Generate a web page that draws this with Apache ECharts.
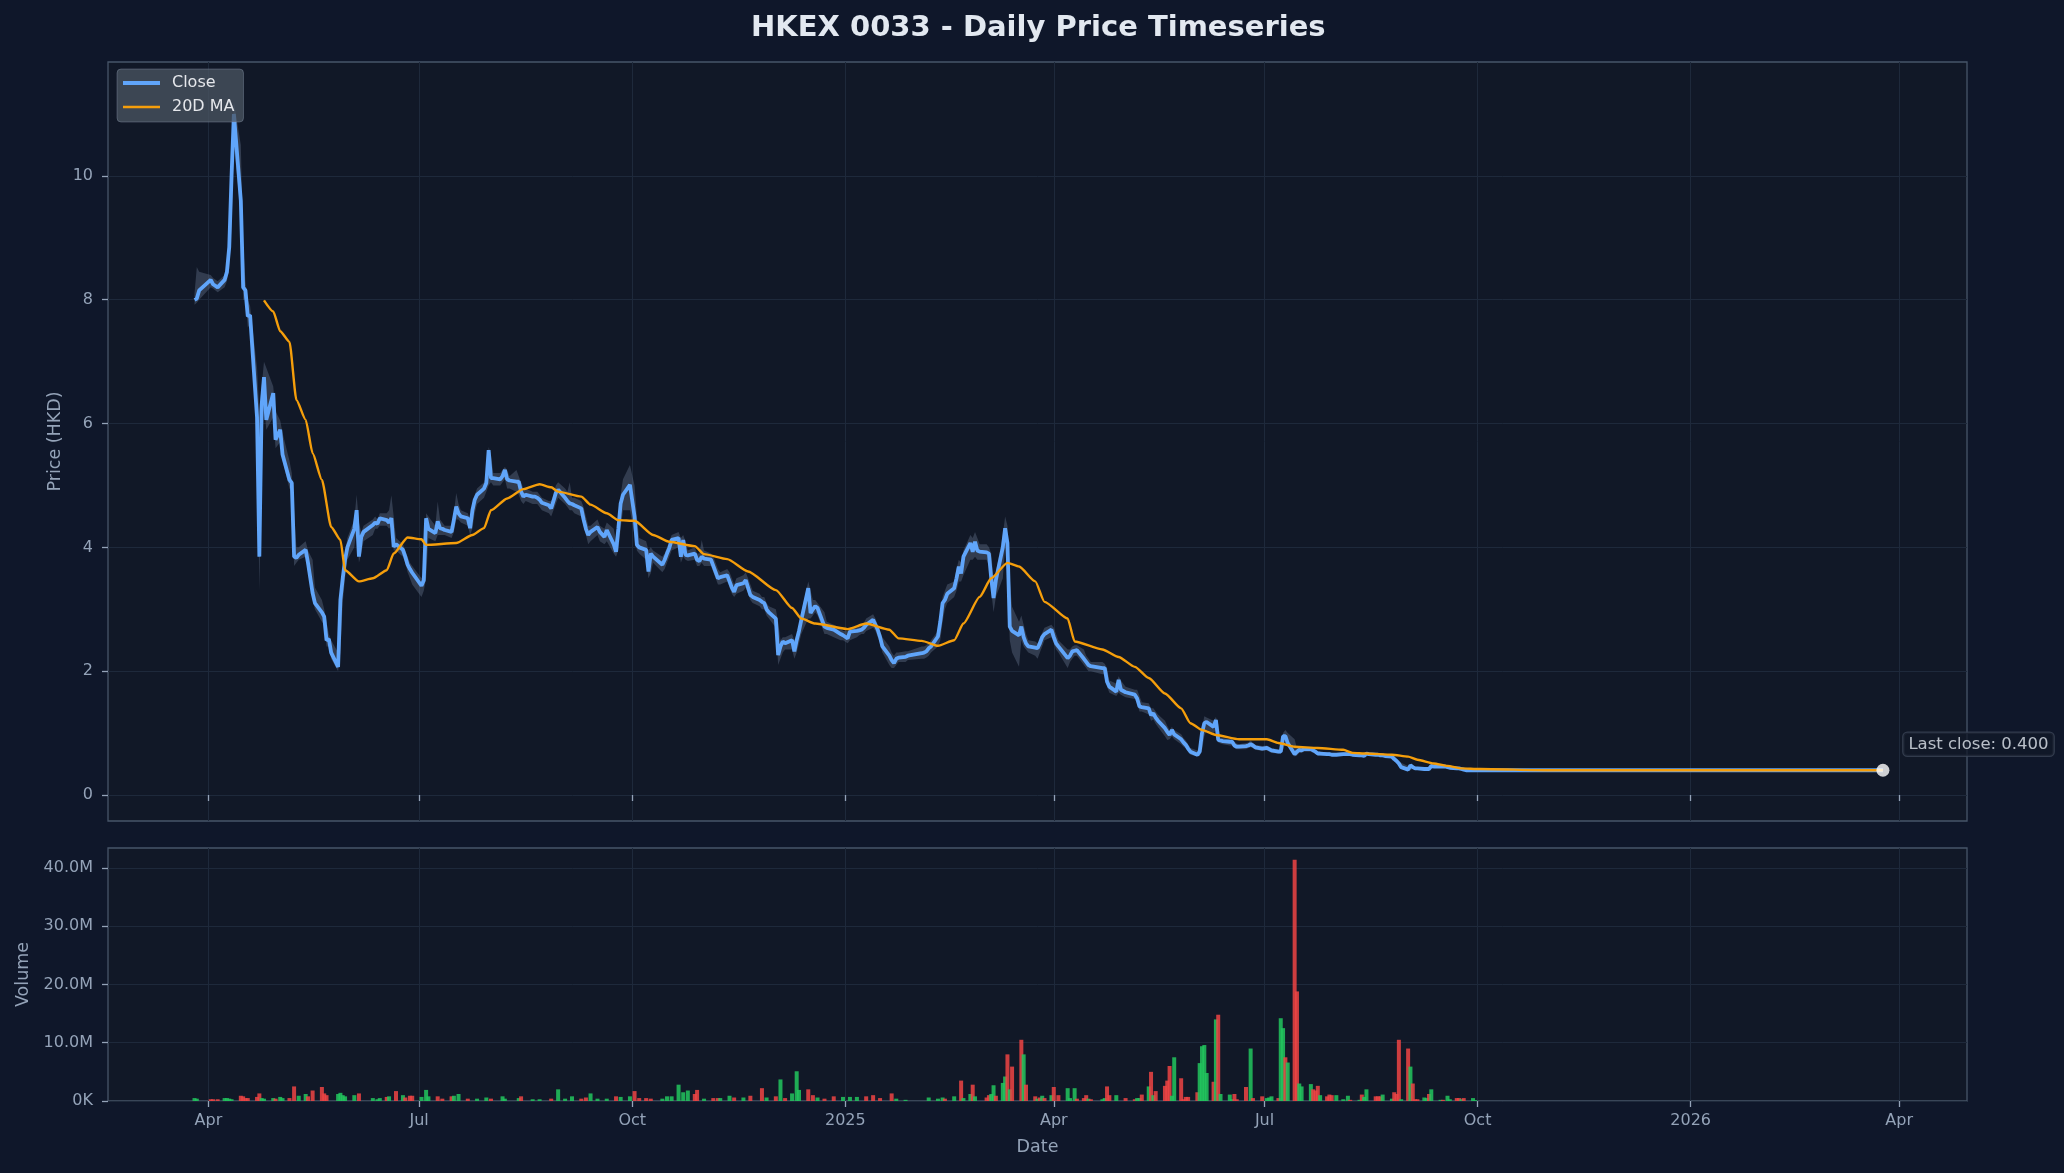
<!DOCTYPE html>
<html>
<head>
<meta charset="utf-8">
<script src="https://cdn.jsdelivr.net/npm/echarts@6/dist/echarts.min.js"></script>
<style>
html,body{margin:0;padding:0;background:#0f172a;}
#chart{width:2064px;height:1173px;}
</style>
</head>
<body>
<div id="chart"></div>
<script>
// ---------------- DATA ----------------
const chartTitle = 'HKEX 0033 - Daily Price Timeseries';

const closeDates = [
 '2024-03-26','2024-03-27','2024-03-28','2024-04-02','2024-04-03','2024-04-05','2024-04-08','2024-04-09','2024-04-10','2024-04-11','2024-04-12','2024-04-15','2024-04-16','2024-04-17','2024-04-18','2024-04-19','2024-04-22','2024-04-23','2024-04-24','2024-04-25','2024-04-26','2024-04-29','2024-04-30',
 '2024-05-02','2024-05-03','2024-05-06','2024-05-07','2024-05-08','2024-05-09','2024-05-10','2024-05-13','2024-05-14','2024-05-16','2024-05-17','2024-05-20','2024-05-21','2024-05-22','2024-05-23','2024-05-24','2024-05-27','2024-05-28','2024-05-29','2024-05-30','2024-05-31',
 '2024-06-03','2024-06-04','2024-06-05','2024-06-06','2024-06-07','2024-06-11','2024-06-12','2024-06-13','2024-06-14','2024-06-17','2024-06-18','2024-06-19','2024-06-20','2024-06-21','2024-06-24','2024-06-25','2024-06-26','2024-06-27','2024-06-28',
 '2024-07-02','2024-07-03','2024-07-04','2024-07-05','2024-07-08','2024-07-09','2024-07-10','2024-07-11','2024-07-12','2024-07-15','2024-07-16','2024-07-17','2024-07-18','2024-07-19','2024-07-22','2024-07-23','2024-07-24','2024-07-25','2024-07-26','2024-07-29','2024-07-30','2024-07-31',
 '2024-08-01','2024-08-02','2024-08-05','2024-08-06','2024-08-07','2024-08-08','2024-08-09','2024-08-12','2024-08-13','2024-08-14','2024-08-15','2024-08-16','2024-08-19','2024-08-20','2024-08-21','2024-08-22','2024-08-23','2024-08-26','2024-08-27','2024-08-28','2024-08-29','2024-08-30',
 '2024-09-02','2024-09-03','2024-09-04','2024-09-05','2024-09-06','2024-09-09','2024-09-10','2024-09-11','2024-09-12','2024-09-13','2024-09-16','2024-09-17','2024-09-19','2024-09-20','2024-09-23','2024-09-24','2024-09-25','2024-09-26','2024-09-27','2024-09-30',
 '2024-10-02','2024-10-03','2024-10-04','2024-10-07','2024-10-08','2024-10-09','2024-10-10','2024-10-14','2024-10-15','2024-10-16','2024-10-17','2024-10-18','2024-10-21','2024-10-22','2024-10-23','2024-10-24','2024-10-25','2024-10-28','2024-10-29','2024-10-30','2024-10-31',
 '2024-11-01','2024-11-04','2024-11-05','2024-11-06','2024-11-07','2024-11-08','2024-11-11','2024-11-12','2024-11-13','2024-11-14','2024-11-15','2024-11-18','2024-11-19','2024-11-20','2024-11-21','2024-11-22','2024-11-25','2024-11-26','2024-11-27','2024-11-28','2024-11-29',
 '2024-12-02','2024-12-03','2024-12-04','2024-12-05','2024-12-06','2024-12-09','2024-12-10','2024-12-11','2024-12-12','2024-12-13','2024-12-16','2024-12-17','2024-12-18','2024-12-19','2024-12-20','2024-12-23','2024-12-24','2024-12-27','2024-12-30','2024-12-31',
 '2025-01-02','2025-01-03','2025-01-06','2025-01-07','2025-01-08','2025-01-09','2025-01-10','2025-01-13','2025-01-14','2025-01-15','2025-01-16','2025-01-17','2025-01-20','2025-01-21','2025-01-22','2025-01-23','2025-01-24','2025-01-27','2025-01-28',
 '2025-02-03','2025-02-04','2025-02-05','2025-02-06','2025-02-07','2025-02-10','2025-02-11','2025-02-12','2025-02-13','2025-02-14','2025-02-17','2025-02-18','2025-02-19','2025-02-20','2025-02-21','2025-02-24','2025-02-25','2025-02-26','2025-02-27','2025-02-28',
 '2025-03-03','2025-03-04','2025-03-05','2025-03-06','2025-03-07','2025-03-10','2025-03-11','2025-03-12','2025-03-13','2025-03-14','2025-03-17','2025-03-18','2025-03-19','2025-03-20','2025-03-21','2025-03-24','2025-03-25','2025-03-26','2025-03-27','2025-03-28','2025-03-31',
 '2025-04-01','2025-04-02','2025-04-03','2025-04-07','2025-04-08','2025-04-09','2025-04-10','2025-04-11','2025-04-14','2025-04-15','2025-04-16','2025-04-17','2025-04-22','2025-04-23','2025-04-24','2025-04-25','2025-04-28','2025-04-29','2025-04-30',
 '2025-05-02','2025-05-06','2025-05-07','2025-05-08','2025-05-09','2025-05-12','2025-05-13','2025-05-14','2025-05-15','2025-05-16','2025-05-19','2025-05-20','2025-05-21','2025-05-22','2025-05-23','2025-05-26','2025-05-27','2025-05-28','2025-05-29','2025-05-30',
 '2025-06-02','2025-06-03','2025-06-04','2025-06-05','2025-06-06','2025-06-09','2025-06-10','2025-06-11','2025-06-12','2025-06-13','2025-06-16','2025-06-17','2025-06-18','2025-06-19','2025-06-20','2025-06-23','2025-06-24','2025-06-25','2025-06-26','2025-06-27','2025-06-30',
 '2025-07-02','2025-07-03','2025-07-04','2025-07-07','2025-07-08','2025-07-09','2025-07-10','2025-07-11','2025-07-14','2025-07-15','2025-07-16','2025-07-17','2025-07-18','2025-07-21','2025-07-22','2025-07-23','2025-07-24','2025-07-25','2025-07-28','2025-07-29','2025-07-30','2025-07-31',
 '2025-08-01','2025-08-04','2025-08-05','2025-08-06','2025-08-07','2025-08-08','2025-08-11','2025-08-12','2025-08-13','2025-08-14','2025-08-15','2025-08-18','2025-08-19','2025-08-20','2025-08-21','2025-08-22','2025-08-25','2025-08-26','2025-08-27','2025-08-28','2025-08-29',
 '2025-09-01','2025-09-02','2025-09-03','2025-09-04','2025-09-05','2025-09-08','2025-09-09','2025-09-10','2025-09-11','2025-09-12','2025-09-15','2025-09-16','2025-09-17','2025-09-18','2025-09-19','2025-09-22','2025-09-23','2025-09-24','2025-09-25','2025-09-26','2025-09-29','2025-09-30',
 '2025-10-31','2025-11-28','2025-12-31','2026-01-30','2026-02-27','2026-03-25'
];

const closeVals = [
 8.00,8.02,8.15,8.32,8.25,8.20,8.32,8.45,8.85,10.0,11.0,9.60,8.20,8.15,7.73,7.75,6.10,3.85,6.30,6.75,6.06,6.49,5.74,
 5.90,5.50,5.09,5.04,3.85,3.83,3.88,3.96,3.75,3.26,3.10,2.95,2.88,2.50,2.52,2.30,2.07,3.15,3.50,3.80,4.00,
 4.30,4.60,3.85,4.17,4.25,4.36,4.40,4.38,4.47,4.44,4.40,4.47,4.01,4.05,3.96,3.85,3.72,3.65,3.59,
 3.38,3.47,4.47,4.30,4.23,4.42,4.31,4.30,4.28,4.25,4.45,4.66,4.55,4.50,4.47,4.31,4.60,4.77,4.85,4.95,5.04,5.57,
 5.12,5.12,5.10,5.15,5.25,5.10,5.08,5.06,5.06,4.90,4.82,4.85,4.82,4.82,4.80,4.77,4.72,4.68,4.63,4.75,4.88,4.93,
 4.80,4.75,4.71,4.70,4.68,4.63,4.45,4.30,4.20,4.25,4.33,4.25,4.17,4.28,4.05,3.93,4.30,4.71,4.85,5.01,
 4.50,4.04,4.00,3.96,3.61,3.90,3.85,3.72,3.80,3.90,3.99,4.12,4.15,3.85,4.12,3.88,3.87,3.90,3.80,3.78,3.85,
 3.82,3.80,3.70,3.60,3.50,3.52,3.55,3.45,3.35,3.28,3.39,3.42,3.47,3.35,3.23,3.20,3.15,3.12,3.10,3.00,2.95,
 2.85,2.26,2.40,2.48,2.45,2.50,2.32,2.50,2.65,2.83,3.34,2.94,3.00,3.05,3.02,2.72,2.70,2.67,2.60,2.58,
 2.53,2.64,2.65,2.66,2.67,2.70,2.75,2.83,2.75,2.67,2.55,2.40,2.25,2.18,2.13,2.20,2.22,2.23,2.25,
 2.29,2.30,2.32,2.37,2.40,2.56,2.80,3.10,3.15,3.25,3.34,3.50,3.69,3.58,3.85,4.07,3.93,4.09,3.95,3.93,
 3.92,3.90,3.50,3.18,3.47,4.00,4.31,4.07,2.72,2.65,2.58,2.72,2.55,2.45,2.40,2.38,2.37,2.45,2.55,2.60,2.67,
 2.55,2.45,2.40,2.21,2.25,2.32,2.33,2.34,2.20,2.15,2.10,2.08,2.05,2.05,1.83,1.75,1.67,1.86,1.70,
 1.66,1.62,1.56,1.43,1.42,1.40,1.29,1.32,1.25,1.20,1.08,1.02,0.97,1.05,0.98,0.90,0.85,0.81,0.75,0.70,
 0.65,0.70,1.00,1.16,1.18,1.10,1.21,0.89,0.88,0.87,0.86,0.86,0.80,0.78,0.78,0.79,0.80,0.82,0.80,0.77,0.75,
 0.76,0.74,0.72,0.70,0.70,0.95,0.95,0.84,0.66,0.70,0.73,0.72,0.74,0.74,0.72,0.70,0.67,0.67,0.66,0.66,0.65,0.65,
 0.65,0.66,0.66,0.66,0.66,0.65,0.64,0.64,0.63,0.67,0.66,0.65,0.65,0.64,0.64,0.63,0.62,0.58,0.55,0.51,0.45,
 0.41,0.48,0.45,0.43,0.43,0.42,0.42,0.42,0.47,0.46,0.46,0.46,0.46,0.45,0.44,0.43,0.43,0.42,0.41,0.40,0.40,0.40,
 0.40,0.40,0.40,0.40,0.40,0.40
];

const lowVals = [
 7.92,7.95,8.00,8.20,8.18,8.12,8.20,8.30,8.50,9.20,10.5,9.40,8.00,8.00,7.55,7.60,5.90,3.30,5.50,6.30,5.90,6.10,5.60,
 5.70,5.40,4.95,4.90,3.70,3.75,3.80,3.85,3.60,3.15,3.00,2.80,2.75,2.40,2.40,2.20,2.00,2.30,3.10,3.50,3.80,
 4.00,4.30,3.75,3.90,4.10,4.20,4.30,4.30,4.35,4.35,4.30,4.35,3.95,3.95,3.85,3.75,3.60,3.50,3.40,
 3.20,3.30,3.50,4.15,4.10,4.20,4.20,4.20,4.20,4.15,4.25,4.45,4.45,4.40,4.35,4.20,4.30,4.55,4.70,4.80,4.90,5.00,
 5.05,5.00,5.00,5.05,5.10,4.95,4.95,4.90,4.85,4.75,4.70,4.75,4.70,4.70,4.70,4.65,4.60,4.55,4.50,4.60,4.70,4.80,
 4.70,4.65,4.60,4.60,4.55,4.50,4.35,4.20,4.05,4.10,4.20,4.10,4.05,4.10,3.90,3.85,3.95,4.30,4.60,4.60,
 4.20,3.95,3.90,3.80,3.50,3.58,3.75,3.60,3.65,3.75,3.85,3.95,4.00,3.75,3.85,3.80,3.78,3.80,3.70,3.70,3.75,
 3.70,3.70,3.60,3.50,3.40,3.40,3.45,3.35,3.25,3.20,3.25,3.30,3.35,3.25,3.15,3.10,3.05,3.00,3.00,2.90,2.85,
 2.70,2.10,2.20,2.30,2.35,2.35,2.20,2.30,2.45,2.60,2.85,2.85,2.90,2.95,2.90,2.60,2.60,2.55,2.50,2.50,
 2.45,2.50,2.55,2.58,2.60,2.60,2.65,2.70,2.65,2.55,2.45,2.30,2.10,2.05,2.05,2.10,2.15,2.15,2.18,
 2.20,2.20,2.22,2.25,2.30,2.40,2.50,2.80,3.00,3.10,3.20,3.30,3.45,3.45,3.55,3.80,3.80,3.85,3.80,3.80,
 3.80,3.70,3.30,2.95,3.20,3.50,4.00,3.50,2.50,2.30,2.07,2.50,2.40,2.35,2.30,2.25,2.20,2.30,2.40,2.50,2.55,
 2.45,2.35,2.30,2.05,2.15,2.20,2.25,2.25,2.10,2.05,2.00,2.00,1.95,1.95,1.75,1.65,1.60,1.65,1.62,
 1.58,1.55,1.48,1.35,1.35,1.30,1.20,1.22,1.15,1.10,0.95,0.89,0.90,0.95,0.90,0.82,0.78,0.75,0.70,0.65,
 0.62,0.63,0.72,0.95,1.05,1.00,1.05,0.85,0.83,0.82,0.80,0.80,0.76,0.74,0.74,0.74,0.76,0.77,0.76,0.73,0.71,
 0.72,0.70,0.68,0.67,0.67,0.72,0.85,0.78,0.62,0.64,0.68,0.68,0.70,0.70,0.68,0.67,0.64,0.64,0.64,0.64,0.63,0.63,
 0.63,0.64,0.64,0.64,0.64,0.63,0.62,0.62,0.61,0.62,0.64,0.63,0.63,0.62,0.62,0.61,0.60,0.56,0.52,0.47,0.42,
 0.39,0.40,0.43,0.41,0.41,0.41,0.41,0.40,0.42,0.44,0.44,0.44,0.44,0.43,0.43,0.42,0.42,0.41,0.40,0.40,0.40,0.40,
 0.40,0.40,0.40,0.40,0.40,0.40
];

const highVals = [
 8.10,8.53,8.45,8.40,8.35,8.30,8.40,8.55,8.95,10.2,11.2,10.5,8.90,8.30,8.00,7.90,6.90,6.20,6.60,7.00,6.90,6.60,6.20,
 6.05,5.85,5.40,5.20,4.60,4.00,4.00,4.10,3.95,3.80,3.35,3.15,3.00,2.80,2.60,2.50,2.30,3.25,3.60,3.90,4.15,
 4.45,4.85,4.40,4.25,4.35,4.45,4.50,4.45,4.55,4.55,4.60,4.84,4.50,4.15,4.05,3.95,3.85,3.75,3.70,
 3.50,3.60,4.55,4.50,4.35,4.74,4.45,4.40,4.35,4.35,4.55,4.88,4.70,4.60,4.55,4.45,4.70,4.85,4.95,5.05,5.15,5.62,
 5.50,5.20,5.20,5.25,5.30,5.25,5.15,5.25,5.15,5.05,4.95,4.95,4.90,4.90,4.90,4.85,4.80,4.75,4.75,4.85,5.00,5.05,
 4.95,4.90,5.05,4.80,4.80,4.75,4.65,4.50,4.35,4.35,4.45,4.35,4.30,4.40,4.30,4.10,4.45,4.85,5.10,5.33,
 5.00,4.50,4.15,4.10,3.95,4.00,3.95,3.85,3.90,4.00,4.10,4.20,4.25,4.15,4.20,4.10,3.95,4.00,3.90,3.90,4.12,
 3.95,3.90,3.85,3.75,3.65,3.60,3.65,3.60,3.50,3.40,3.50,3.55,3.60,3.50,3.40,3.30,3.25,3.20,3.20,3.10,3.05,
 3.00,2.80,2.50,2.55,2.55,2.60,2.50,2.60,2.75,2.95,3.45,3.30,3.15,3.15,3.10,2.95,2.80,2.75,2.70,2.65,
 2.65,2.70,2.70,2.72,2.75,2.78,2.85,2.92,2.85,2.75,2.65,2.55,2.40,2.30,2.25,2.30,2.30,2.32,2.32,
 2.40,2.40,2.42,2.45,2.50,2.65,2.90,3.20,3.30,3.40,3.45,3.65,3.80,3.75,3.95,4.20,4.15,4.25,4.15,4.05,
 4.05,4.00,3.90,3.50,3.60,4.20,4.50,4.35,3.50,3.04,2.80,2.90,2.75,2.60,2.50,2.48,2.45,2.55,2.62,2.70,2.75,
 2.70,2.60,2.50,2.35,2.35,2.40,2.42,2.42,2.35,2.25,2.20,2.15,2.15,2.12,2.05,1.85,1.80,1.92,1.85,
 1.75,1.70,1.70,1.60,1.50,1.48,1.40,1.40,1.35,1.30,1.20,1.12,1.05,1.10,1.05,0.98,0.92,0.88,0.82,0.76,
 0.72,0.80,1.08,1.27,1.25,1.20,1.26,1.15,0.93,0.92,0.90,0.90,0.86,0.83,0.82,0.84,0.85,0.88,0.84,0.81,0.79,
 0.80,0.78,0.76,0.74,0.75,1.00,1.05,1.00,0.90,0.75,0.77,0.76,0.78,0.77,0.75,0.73,0.70,0.70,0.69,0.69,0.68,0.68,
 0.68,0.69,0.69,0.69,0.68,0.68,0.67,0.67,0.66,0.69,0.68,0.67,0.67,0.66,0.66,0.65,0.64,0.62,0.59,0.56,0.52,
 0.47,0.50,0.49,0.46,0.45,0.44,0.44,0.44,0.49,0.48,0.47,0.47,0.47,0.47,0.46,0.45,0.44,0.44,0.43,0.42,0.41,0.41,
 0.40,0.40,0.40,0.40,0.40,0.40
];

const maDates = [
 '2024-04-25','2024-04-29','2024-05-02','2024-05-06','2024-05-09','2024-05-13','2024-05-16','2024-05-20','2024-05-24','2024-05-28','2024-05-30',
 '2024-06-05','2024-06-11','2024-06-17','2024-06-20','2024-06-26','2024-07-02','2024-07-04','2024-07-17','2024-07-24','2024-07-29',
 '2024-08-01','2024-08-08','2024-08-15','2024-08-22','2024-08-27','2024-08-30','2024-09-09','2024-09-13','2024-09-20','2024-09-25',
 '2024-10-02','2024-10-10','2024-10-17','2024-10-28','2024-11-01','2024-11-11','2024-11-20','2024-12-02','2024-12-09','2024-12-13','2024-12-19',
 '2025-01-02','2025-01-10','2025-01-20','2025-01-24','2025-02-03','2025-02-10','2025-02-17','2025-02-21','2025-02-28',
 '2025-03-05','2025-03-12','2025-03-17','2025-03-24','2025-03-28','2025-04-07','2025-04-10','2025-04-22','2025-04-29',
 '2025-05-06','2025-05-12','2025-05-19','2025-05-26','2025-05-30','2025-06-04','2025-06-10','2025-06-20','2025-07-02','2025-07-07','2025-07-14','2025-07-24',
 '2025-08-04','2025-08-08','2025-08-14','2025-08-25','2025-09-01','2025-09-05','2025-09-12','2025-09-18','2025-09-24','2025-10-02',
 '2025-10-31','2025-11-28','2025-12-31','2026-01-30','2026-02-27','2026-03-25'
];
const maVals = [
 7.99,7.81,7.49,7.32,6.38,6.06,5.52,5.09,4.33,4.12,3.63,
 3.45,3.50,3.63,3.90,4.16,4.13,4.04,4.07,4.20,4.31,
 4.60,4.79,4.94,5.02,4.97,4.90,4.82,4.69,4.55,4.44,
 4.43,4.20,4.09,4.02,3.89,3.81,3.61,3.31,3.02,2.85,2.77,
 2.68,2.77,2.67,2.53,2.49,2.41,2.50,2.77,3.20,
 3.50,3.75,3.69,3.45,3.12,2.85,2.48,2.35,2.23,
 2.07,1.89,1.64,1.40,1.16,1.05,0.97,0.90,0.90,0.84,0.78,0.76,
 0.73,0.68,0.67,0.65,0.62,0.57,0.51,0.47,0.43,0.42,
 0.40,0.40,0.40,0.40,0.40,0.40
];

// volume in millions of shares; 1 = up day (green), 0 = down day (red)
const volDates = [
 '2024-03-26','2024-03-27','2024-04-02','2024-04-03','2024-04-05','2024-04-08','2024-04-09','2024-04-10','2024-04-11','2024-04-15','2024-04-16','2024-04-17','2024-04-18','2024-04-22','2024-04-23','2024-04-24','2024-04-25','2024-04-29','2024-04-30',
 '2024-05-02','2024-05-03','2024-05-06','2024-05-08','2024-05-10','2024-05-13','2024-05-14','2024-05-16','2024-05-20','2024-05-21','2024-05-22','2024-05-27','2024-05-28','2024-05-29','2024-05-30',
 '2024-06-03','2024-06-05','2024-06-11','2024-06-13','2024-06-14','2024-06-17','2024-06-18','2024-06-21','2024-06-24','2024-06-25','2024-06-27','2024-06-28',
 '2024-07-02','2024-07-04','2024-07-05','2024-07-09','2024-07-11','2024-07-15','2024-07-16','2024-07-18','2024-07-22','2024-07-26','2024-07-30',
 '2024-08-01','2024-08-06','2024-08-07','2024-08-13','2024-08-14','2024-08-19','2024-08-22','2024-08-27','2024-08-30',
 '2024-09-02','2024-09-05','2024-09-09','2024-09-11','2024-09-13','2024-09-16','2024-09-20','2024-09-24','2024-09-26','2024-09-30',
 '2024-10-02','2024-10-04','2024-10-07','2024-10-09','2024-10-14','2024-10-16','2024-10-18','2024-10-21','2024-10-23','2024-10-25','2024-10-28','2024-10-29',
 '2024-11-01','2024-11-05','2024-11-07','2024-11-08','2024-11-12','2024-11-14','2024-11-18','2024-11-21','2024-11-26','2024-11-28',
 '2024-12-02','2024-12-04','2024-12-06','2024-12-09','2024-12-11','2024-12-12','2024-12-16','2024-12-18','2024-12-20','2024-12-23','2024-12-27','2024-12-31',
 '2025-01-03','2025-01-06','2025-01-10','2025-01-13','2025-01-16','2025-01-21','2025-01-23','2025-01-27',
 '2025-02-06','2025-02-10','2025-02-12','2025-02-13','2025-02-17','2025-02-20','2025-02-21','2025-02-24','2025-02-25','2025-02-26',
 '2025-03-03','2025-03-04','2025-03-05','2025-03-06','2025-03-07','2025-03-10','2025-03-11','2025-03-12','2025-03-13','2025-03-14','2025-03-18','2025-03-19','2025-03-20','2025-03-24','2025-03-25','2025-03-26','2025-03-27','2025-03-28','2025-03-31',
 '2025-04-01','2025-04-03','2025-04-07','2025-04-08','2025-04-10','2025-04-11','2025-04-14','2025-04-15','2025-04-16','2025-04-17','2025-04-22','2025-04-23','2025-04-24','2025-04-25','2025-04-28',
 '2025-05-02','2025-05-06','2025-05-07','2025-05-08','2025-05-09','2025-05-12','2025-05-13','2025-05-14','2025-05-15','2025-05-19','2025-05-20','2025-05-21','2025-05-22','2025-05-23','2025-05-26','2025-05-27','2025-05-28','2025-05-29',
 '2025-06-02','2025-06-03','2025-06-04','2025-06-05','2025-06-06','2025-06-09','2025-06-10','2025-06-11','2025-06-12','2025-06-16','2025-06-17','2025-06-18','2025-06-19','2025-06-23','2025-06-25','2025-06-26','2025-06-30',
 '2025-07-02','2025-07-03','2025-07-04','2025-07-07','2025-07-08','2025-07-09','2025-07-10','2025-07-11','2025-07-14','2025-07-15','2025-07-16','2025-07-17','2025-07-21','2025-07-22','2025-07-23','2025-07-24','2025-07-25','2025-07-28','2025-07-29','2025-07-30',
 '2025-08-01','2025-08-04','2025-08-06','2025-08-07','2025-08-11','2025-08-12','2025-08-13','2025-08-14','2025-08-18','2025-08-19','2025-08-20','2025-08-21','2025-08-25','2025-08-26','2025-08-27','2025-08-28','2025-08-29',
 '2025-09-01','2025-09-02','2025-09-03','2025-09-04','2025-09-05','2025-09-08','2025-09-09','2025-09-10','2025-09-11','2025-09-15','2025-09-16','2025-09-18','2025-09-19','2025-09-22','2025-09-23','2025-09-24','2025-09-25','2025-09-29','2025-09-30'
];
const volVals = [
 0.5,0.4,0.3,0.3,0.3,0.5,0.5,0.4,0.3,0.9,0.8,0.5,0.5,0.7,1.3,0.5,0.4,0.5,0.4,
 0.7,0.5,0.5,2.5,0.9,1.2,0.8,1.8,2.4,1.3,1.0,1.2,1.4,1.0,0.8,
 1.0,1.3,0.5,0.3,0.5,0.7,0.8,1.7,1.0,0.6,0.9,0.9,
 0.7,1.9,0.8,0.8,0.4,0.8,0.9,1.2,0.4,0.4,0.6,
 0.4,0.8,0.4,0.5,0.8,0.3,0.3,0.4,2.0,
 0.4,0.8,0.4,0.6,1.3,0.4,0.4,0.8,0.7,0.8,
 1.7,0.5,0.5,0.4,0.4,0.8,0.8,2.8,1.5,1.8,1.2,1.9,
 0.4,0.5,0.5,0.5,0.9,0.6,0.6,0.9,2.2,0.6,
 0.8,3.7,0.5,1.3,5.1,1.9,2.0,1.0,0.6,0.4,0.8,0.7,
 0.7,0.7,0.8,1.0,0.5,1.3,0.4,0.2,
 0.6,0.4,0.6,0.4,0.8,3.5,0.5,1.2,2.8,0.8,
 0.6,1.0,1.2,2.7,0.9,3.1,4.2,8.0,2.0,5.9,10.5,8.0,2.8,0.8,0.4,0.6,0.9,0.5,1.0,
 2.4,1.0,2.2,0.5,2.2,0.4,0.5,1.0,0.4,0.3,0.3,0.5,2.5,1.0,1.0,
 0.5,0.3,0.5,0.5,1.1,2.5,5.0,1.0,1.7,2.6,3.5,6.0,0.9,7.5,3.9,0.3,0.7,0.7,
 1.5,6.5,9.4,9.6,4.8,3.3,14.0,14.8,1.2,1.1,0.3,1.2,0.3,2.4,9.0,0.5,0.8,
 0.5,0.6,0.8,0.5,14.2,12.5,7.5,6.6,41.4,18.8,3.0,2.5,2.9,2.0,1.8,2.6,1.0,0.8,1.1,1.0,
 1.0,0.3,0.9,0.2,0.2,1.1,0.7,2.0,0.8,0.8,0.8,1.1,0.4,1.5,1.2,10.5,0.3,
 9.0,5.9,3.0,0.3,0.3,0.6,0.5,1.2,2.0,0.2,0.2,0.9,0.3,0.5,0.5,0.3,0.5,0.5,0.15
];
const volUp = [
 1,1,0,0,0,1,1,1,1,0,0,0,0,0,0,1,1,1,0,
 1,1,0,0,1,1,0,0,0,0,0,1,1,1,1,
 1,0,1,1,1,0,1,0,1,0,0,0,
 1,1,1,0,0,0,1,1,0,1,1,
 0,1,1,1,0,1,1,0,1,
 1,1,0,0,1,1,1,0,1,1,
 0,0,0,0,1,1,1,1,1,1,0,0,
 1,0,0,1,1,0,1,0,0,1,
 0,1,0,1,1,1,0,0,1,0,0,1,
 1,1,0,0,0,0,1,1,
 1,1,1,0,1,0,1,1,0,1,
 0,0,1,1,0,1,1,0,1,0,0,1,0,0,1,0,1,0,1,
 0,0,1,1,1,0,0,0,1,0,1,1,0,0,1,
 0,0,1,1,0,1,0,1,0,0,0,0,1,1,0,0,0,0,
 0,1,1,1,1,0,1,0,1,1,1,0,0,0,1,0,0,
 1,1,1,0,1,1,0,1,0,0,1,1,1,0,0,0,1,0,0,0,
 1,1,1,0,1,0,1,1,0,0,0,1,1,0,0,0,1,
 0,1,0,0,0,1,1,0,1,1,0,1,1,0,0,1,0,1,1
];

const xTickDates = ['2024-04-01','2024-07-01','2024-10-01','2025-01-01','2025-04-01','2025-07-01','2025-10-01','2026-01-01','2026-04-01'];
const xTickLabels = ['Apr','Jul','Oct','2025','Apr','Jul','Oct','2026','Apr'];
const priceTicks = [0,2,4,6,8,10];
const volumeTicks = [0,10e6,20e6,30e6,40e6];

// ---------------- CHART ----------------
const FONT = 'DejaVu Sans';
const LABEL_C = '#94a3b8';
const GRID_C = '#1e293b';
const BORDER_C = '#475569';
const toTs = s => { const p = s.split('-').map(Number); return Date.UTC(p[0], p[1]-1, p[2]); };
const xTickTs = xTickDates.map(toTs);
const xMin = Date.UTC(2024, 1, 17, 15, 36);
const xMax = Date.UTC(2026, 3, 30, 7, 12);

const bandData = closeDates.map((d,i) => [toTs(d), lowVals[i], highVals[i]]);
const closeSeries = closeDates.map((d,i) => [toTs(d), closeVals[i]]);
const maSeries = maDates.map((d,i) => [toTs(d), maVals[i]]);
const volSeries = volDates.map((d,i) => ({
  value: [toTs(d), volVals[i]*1e6],
  itemStyle: { color: volUp[i] ? 'rgba(34,197,94,0.85)' : 'rgba(239,68,68,0.85)' }
}));
const lastIdx = closeDates.length - 1;

const xAxisBase = (gridIndex) => ({
  type: 'value', gridIndex, min: xMin, max: xMax, scale: true,
  axisLine: { show: false },
  axisTick: { show: true, length: 6, lineStyle: { color: LABEL_C, width: 1.3 }, customValues: xTickTs },
  splitLine: { show: true, lineStyle: { color: GRID_C, width: 1 } },
});

const chart = echarts.init(document.getElementById('chart'), null, { renderer: 'canvas' });
chart.setOption({
  animation: false,
  backgroundColor: '#0f172a',
  textStyle: { fontFamily: FONT },
  title: {
    text: chartTitle, left: 746, top: 9,
    textStyle: { color: '#e2e8f0', fontSize: 29, fontWeight: 'bold', fontFamily: FONT }
  },
  legend: {
    data: [
      { name: 'Close', lineStyle: { width: 4 } },
      { name: '20D MA', lineStyle: { width: 2.5 } }
    ],
    orient: 'vertical', left: 117, top: 69,
    itemWidth: 37, itemHeight: 14, itemGap: 8,
    padding: [6, 9, 7, 4],
    itemStyle: { opacity: 0 },
    backgroundColor: 'rgba(75,85,99,0.75)',
    borderColor: 'rgba(148,163,184,0.35)', borderWidth: 1, borderRadius: 4,
    textStyle: { color: '#e5e7eb', fontSize: 16, fontFamily: FONT, padding: [0,0,0,7] }
  },
  grid: [
    { left: 108, top: 62, width: 1859, height: 759, show: true, backgroundColor: '#111827', borderColor: BORDER_C, borderWidth: 1.3 },
    { left: 108, top: 848, width: 1859, height: 253, show: true, backgroundColor: '#111827', borderColor: BORDER_C, borderWidth: 1.3 }
  ],
  xAxis: [
    Object.assign(xAxisBase(0), { axisLabel: { show: false, customValues: xTickTs } }),
    Object.assign(xAxisBase(1), {
      name: 'Date', nameLocation: 'middle', nameGap: 37,
      nameTextStyle: { color: LABEL_C, fontSize: 17.5, fontFamily: FONT },
      axisLabel: {
        show: true, color: LABEL_C, fontSize: 16, fontFamily: FONT, margin: 12,
        customValues: xTickTs,
        formatter: (v) => { const i = xTickTs.indexOf(v); return i >= 0 ? xTickLabels[i] : ''; }
      }
    })
  ],
  yAxis: [
    {
      type: 'value', gridIndex: 0, min: -0.42, max: 11.84,
      name: 'Price (HKD)', nameLocation: 'middle', nameGap: 44, nameRotate: 90, nameMoveOverlap: false,
      nameTextStyle: { color: LABEL_C, fontSize: 17.5, fontFamily: FONT },
      axisLine: { show: false },
      axisTick: { show: true, length: 6, lineStyle: { color: LABEL_C, width: 1.3 }, customValues: priceTicks },
      axisLabel: { color: LABEL_C, fontSize: 16, fontFamily: FONT, margin: 15, customValues: priceTicks,
                   formatter: v => String(v) },
      splitLine: { show: true, lineStyle: { color: GRID_C, width: 1 } }
    },
    {
      type: 'value', gridIndex: 1, min: 0, max: 43.4e6,
      name: 'Volume', nameLocation: 'middle', nameGap: 76, nameRotate: 90,
      nameTextStyle: { color: LABEL_C, fontSize: 17.5, fontFamily: FONT },
      axisLine: { show: false },
      axisTick: { show: true, length: 6, lineStyle: { color: LABEL_C, width: 1.3 }, customValues: volumeTicks },
      axisLabel: { color: LABEL_C, fontSize: 16, fontFamily: FONT, margin: 15, customValues: volumeTicks,
                   formatter: v => v >= 1e6 ? (v/1e6).toFixed(1) + 'M' : (v/1e3).toFixed(0) + 'K' },
      splitLine: { show: true, lineStyle: { color: GRID_C, width: 1 } }
    }
  ],
  series: [
    { name: 'band', type: 'custom', xAxisIndex: 0, yAxisIndex: 0, z: 1, silent: true, clip: true,
      data: bandData, encode: { x: 0, y: [1, 2] },
      renderItem: (params, api) => {
        if (params.dataIndex !== 0) return null;
        const top = [], bot = [];
        for (let i = 0; i < bandData.length; i++) {
          top.push(api.coord([bandData[i][0], bandData[i][2]]));
          bot.push(api.coord([bandData[i][0], bandData[i][1]]));
        }
        return { type: 'polygon', shape: { points: top.concat(bot.reverse()) },
                 style: { fill: 'rgba(100,116,139,0.4)' } };
      } },
    { name: 'Close', type: 'line', xAxisIndex: 0, yAxisIndex: 0, data: closeSeries,
      symbol: 'none', color: '#60a5fa', lineStyle: { color: '#60a5fa', width: 3.8 }, z: 3 },
    { name: '20D MA', type: 'line', xAxisIndex: 0, yAxisIndex: 0, data: maSeries,
      symbol: 'none', smooth: 0.2, smoothMonotone: 'x',
      color: '#f59e0b', lineStyle: { color: '#f59e0b', width: 2.4 }, z: 4 },
    { name: 'last', type: 'scatter', xAxisIndex: 0, yAxisIndex: 0, z: 6,
      data: [[toTs(closeDates[lastIdx]), closeVals[lastIdx]]],
      symbolSize: 13, itemStyle: { color: '#ffffff' },
      label: {
        show: true, position: [27, -31],
        formatter: 'Last close: ' + closeVals[lastIdx].toFixed(3),
        color: '#e2e8f0', fontSize: 16.5, fontFamily: FONT,
        backgroundColor: 'rgba(17,24,39,0.92)', borderColor: '#3b4556', borderWidth: 1.3, borderRadius: 4,
        padding: [3, 5, 3, 5]
      } },
    { name: 'Volume', type: 'bar', xAxisIndex: 1, yAxisIndex: 1, data: volSeries, barWidth: 4, z: 2 }
  ]
});
</script>
</body>
</html>
